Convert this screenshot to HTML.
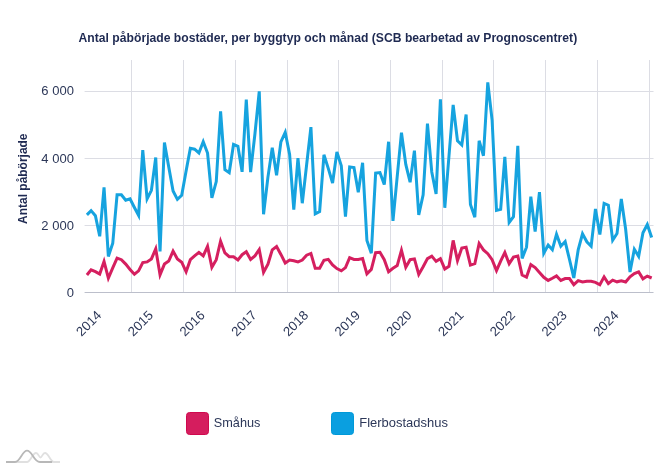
<!DOCTYPE html>
<html><head><meta charset="utf-8"><title>Antal påbörjade bostäder</title>
<style>html,body{margin:0;padding:0;background:#fff;}body{width:669px;height:468px;overflow:hidden;font-family:"Liberation Sans",sans-serif;}svg{display:block;will-change:transform;}text{font-family:"Liberation Sans",sans-serif;}</style></head><body>
<svg width="669" height="468" viewBox="0 0 669 468">
<rect width="669" height="468" fill="#ffffff"/>
<g stroke="#dcdde4" stroke-width="1" fill="none">
<line x1="131.50" y1="60.0" x2="131.50" y2="292.5"/>
<line x1="183.50" y1="60.0" x2="183.50" y2="292.5"/>
<line x1="235.50" y1="60.0" x2="235.50" y2="292.5"/>
<line x1="287.50" y1="60.0" x2="287.50" y2="292.5"/>
<line x1="338.50" y1="60.0" x2="338.50" y2="292.5"/>
<line x1="390.50" y1="60.0" x2="390.50" y2="292.5"/>
<line x1="442.50" y1="60.0" x2="442.50" y2="292.5"/>
<line x1="493.50" y1="60.0" x2="493.50" y2="292.5"/>
<line x1="545.50" y1="60.0" x2="545.50" y2="292.5"/>
<line x1="597.50" y1="60.0" x2="597.50" y2="292.5"/>
<line x1="649.50" y1="60.0" x2="649.50" y2="292.5"/>
<line x1="84.58" y1="91.5" x2="653.52" y2="91.5"/>
<line x1="84.58" y1="158.5" x2="653.52" y2="158.5"/>
<line x1="84.58" y1="225.5" x2="653.52" y2="225.5"/>
</g>
<line x1="84.58" y1="292.5" x2="653.52" y2="292.5" stroke="#bcbfcb" stroke-width="1"/>
<path d="M86.91,214.90 L91.09,210.62 L95.40,215.70 L99.72,236.28 L104.04,187.42 L108.36,256.48 L112.75,243.30 L117.07,194.80 L121.39,194.80 L125.71,200.27 L130.03,198.78 L134.41,207.50 L138.59,215.39 L142.77,150.08 L147.09,198.94 L151.41,190.30 L155.73,157.52 L160.04,251.32 L164.43,142.60 L168.75,167.00 L173.07,191.00 L177.39,199.37 L181.71,195.30 L186.10,171.00 L190.35,148.30 L194.59,149.20 L198.91,152.99 L203.23,141.65 L207.55,153.00 L211.87,197.79 L216.26,181.60 L220.58,111.38 L224.90,169.70 L229.22,172.74 L233.53,144.51 L237.92,146.40 L242.10,171.81 L246.28,99.60 L250.60,172.10 L254.92,134.00 L259.24,91.42 L263.55,214.26 L267.94,177.10 L272.26,147.67 L276.58,175.25 L280.90,141.80 L285.22,132.30 L289.61,154.50 L293.79,209.74 L297.96,158.08 L302.28,203.21 L306.60,165.00 L310.92,127.08 L315.24,213.79 L319.63,211.60 L323.95,154.81 L328.27,168.40 L332.58,182.99 L336.90,151.87 L341.29,165.80 L345.47,216.74 L349.65,167.00 L353.97,167.60 L358.28,192.28 L362.60,162.78 L366.92,240.50 L371.31,253.16 L375.63,173.19 L379.95,172.61 L384.27,184.56 L388.59,141.72 L392.98,220.82 L397.22,176.40 L401.47,132.70 L405.79,164.40 L410.11,182.22 L414.43,150.60 L418.75,214.98 L423.14,194.80 L427.46,123.64 L431.77,172.00 L436.09,193.91 L440.41,99.42 L444.80,207.77 L448.98,156.00 L453.16,104.98 L457.48,140.80 L461.79,144.87 L466.11,114.52 L470.43,204.50 L474.82,217.19 L479.14,140.71 L483.46,155.77 L487.78,82.38 L492.10,120.00 L496.49,210.35 L500.66,209.34 L504.84,156.76 L509.16,222.35 L513.48,216.60 L517.80,145.81 L522.12,258.38 L526.51,247.20 L530.82,196.60 L535.14,231.67 L539.46,192.07 L543.78,253.21 L548.17,245.00 L552.35,249.64 L556.52,234.15 L560.84,246.17 L565.16,241.57 L569.48,259.50 L573.80,277.94 L578.19,249.90 L582.51,233.81 L586.83,241.80 L591.15,246.16 L595.46,208.99 L599.85,234.60 L604.10,203.45 L608.35,205.20 L612.67,240.32 L616.99,233.60 L621.31,198.92 L625.63,229.00 L630.01,271.98 L634.33,249.29 L638.65,256.34 L642.97,232.80 L647.29,224.59 L651.68,237.60" fill="none" stroke="#16a3df" stroke-width="3" stroke-linejoin="miter" stroke-linecap="butt"/>
<path d="M86.91,275.00 L91.09,269.76 L95.40,271.60 L99.72,274.03 L104.04,261.43 L108.36,278.11 L112.75,267.90 L117.07,258.04 L121.39,259.70 L125.71,264.10 L130.03,269.40 L134.41,274.21 L138.59,270.90 L142.77,262.60 L147.09,261.90 L151.41,258.90 L155.73,248.86 L160.04,274.84 L164.43,264.10 L168.75,261.10 L173.07,251.12 L177.39,258.90 L181.71,262.20 L186.10,271.77 L190.35,259.70 L194.59,255.90 L198.91,252.34 L203.23,255.92 L207.55,246.32 L211.87,267.36 L216.26,259.70 L220.58,241.14 L224.90,252.90 L229.22,256.70 L233.53,256.70 L237.92,259.94 L242.10,254.70 L246.28,251.79 L250.60,259.49 L254.92,255.90 L259.24,249.53 L263.55,272.24 L267.94,264.10 L272.26,249.90 L276.58,246.61 L280.90,254.40 L285.22,262.99 L289.61,259.99 L293.79,260.80 L297.96,261.85 L302.28,260.10 L306.60,255.20 L310.92,253.48 L315.24,268.30 L319.63,268.30 L323.95,260.40 L328.27,259.32 L332.58,264.90 L336.90,268.60 L341.29,270.83 L345.47,267.60 L349.65,257.69 L353.97,259.40 L358.28,259.40 L362.60,258.54 L366.92,273.81 L371.31,269.40 L375.63,252.70 L379.95,252.26 L384.27,259.70 L388.59,271.72 L392.98,268.30 L397.22,265.60 L401.47,250.26 L405.79,267.27 L410.11,259.70 L414.43,258.88 L418.75,274.42 L423.14,266.70 L427.46,258.60 L431.77,256.16 L436.09,261.37 L440.41,258.70 L444.80,268.96 L448.98,266.40 L453.16,240.38 L457.48,260.56 L461.79,248.10 L466.11,247.22 L470.43,265.09 L474.82,263.70 L479.14,243.52 L483.46,249.90 L487.78,253.70 L492.10,259.70 L496.49,270.55 L500.66,261.10 L504.84,252.50 L509.16,263.78 L513.48,257.10 L517.80,255.98 L522.12,275.00 L526.51,277.06 L530.82,264.53 L535.14,267.60 L539.46,272.40 L543.78,277.30 L548.17,280.45 L552.35,278.30 L556.52,275.90 L560.84,280.46 L565.16,278.60 L569.48,278.60 L573.80,284.65 L578.19,280.61 L582.51,281.98 L586.83,281.20 L591.15,281.36 L595.46,282.40 L599.85,284.81 L604.10,276.90 L608.35,283.49 L612.67,280.14 L616.99,281.82 L621.31,280.79 L625.63,281.95 L630.01,276.80 L634.33,273.60 L638.65,271.84 L642.97,278.82 L647.29,276.10 L651.68,278.00" fill="none" stroke="#d51f5f" stroke-width="3" stroke-linejoin="miter" stroke-linecap="butt"/>
<text id="title" x="78.6" y="42" textLength="498.6" lengthAdjust="spacingAndGlyphs" font-size="12.5" font-weight="bold" fill="#1f2a52">Antal påbörjade bostäder, per byggtyp och månad (SCB bearbetad av Prognoscentret)</text>
<text class="yl" x="73.9" y="95" text-anchor="end" font-size="13" fill="#2c3758">6 000</text>
<text class="yl" x="73.9" y="163" text-anchor="end" font-size="13" fill="#2c3758">4 000</text>
<text class="yl" x="73.9" y="230" text-anchor="end" font-size="13" fill="#2c3758">2 000</text>
<text class="yl" x="73.9" y="297" text-anchor="end" font-size="13" fill="#2c3758">0</text>
<text id="ytitle" transform="translate(27.4,223.9) rotate(-90)" textLength="90.4" lengthAdjust="spacingAndGlyphs" font-size="12.5" font-weight="bold" fill="#1f2a52">Antal påbörjade</text>
<text class="xl" transform="translate(99.09,313.0) rotate(-45)" text-anchor="end" dy="4.5" font-size="13.2" fill="#2c3758">2014</text>
<text class="xl" transform="translate(150.77,313.0) rotate(-45)" text-anchor="end" dy="4.5" font-size="13.2" fill="#2c3758">2015</text>
<text class="xl" transform="translate(202.45,313.0) rotate(-45)" text-anchor="end" dy="4.5" font-size="13.2" fill="#2c3758">2016</text>
<text class="xl" transform="translate(254.28,313.0) rotate(-45)" text-anchor="end" dy="4.5" font-size="13.2" fill="#2c3758">2017</text>
<text class="xl" transform="translate(305.96,313.0) rotate(-45)" text-anchor="end" dy="4.5" font-size="13.2" fill="#2c3758">2018</text>
<text class="xl" transform="translate(357.65,313.0) rotate(-45)" text-anchor="end" dy="4.5" font-size="13.2" fill="#2c3758">2019</text>
<text class="xl" transform="translate(409.33,313.0) rotate(-45)" text-anchor="end" dy="4.5" font-size="13.2" fill="#2c3758">2020</text>
<text class="xl" transform="translate(461.16,313.0) rotate(-45)" text-anchor="end" dy="4.5" font-size="13.2" fill="#2c3758">2021</text>
<text class="xl" transform="translate(512.84,313.0) rotate(-45)" text-anchor="end" dy="4.5" font-size="13.2" fill="#2c3758">2022</text>
<text class="xl" transform="translate(564.53,313.0) rotate(-45)" text-anchor="end" dy="4.5" font-size="13.2" fill="#2c3758">2023</text>
<text class="xl" transform="translate(616.21,313.0) rotate(-45)" text-anchor="end" dy="4.5" font-size="13.2" fill="#2c3758">2024</text>
<rect x="186.5" y="412.5" width="22" height="22" rx="3" ry="3" fill="#d51d5e" stroke="#cf094e" stroke-width="1"/>
<text id="lg1" x="213.8" y="427" textLength="46.6" lengthAdjust="spacingAndGlyphs" font-size="12.7" fill="#2c3758">Småhus</text>
<rect x="331.5" y="412.5" width="22" height="22" rx="3" ry="3" fill="#0a9fe0" stroke="#0099d8" stroke-width="1"/>
<text id="lg2" x="359.3" y="427" textLength="88.6" lengthAdjust="spacingAndGlyphs" font-size="12.7" fill="#2c3758">Flerbostadshus</text>
<g transform="translate(0,447) scale(0.3)" fill="none" stroke-width="6" stroke-linecap="butt">
<path d="M50,50 L90,50 C102,50 108,20 120,20 C128,20 130,35 135,35 C140,35 142,20 150,20 C162,20 168,50 180,50 L200,50" stroke="#e0e0e0"/>
<path d="M20,50 L50,50 C68,50 74,12 90,12 C108,12 112,50 133,50 L174,50" stroke="#b8b8b8"/>
</g>
</svg></body></html>
